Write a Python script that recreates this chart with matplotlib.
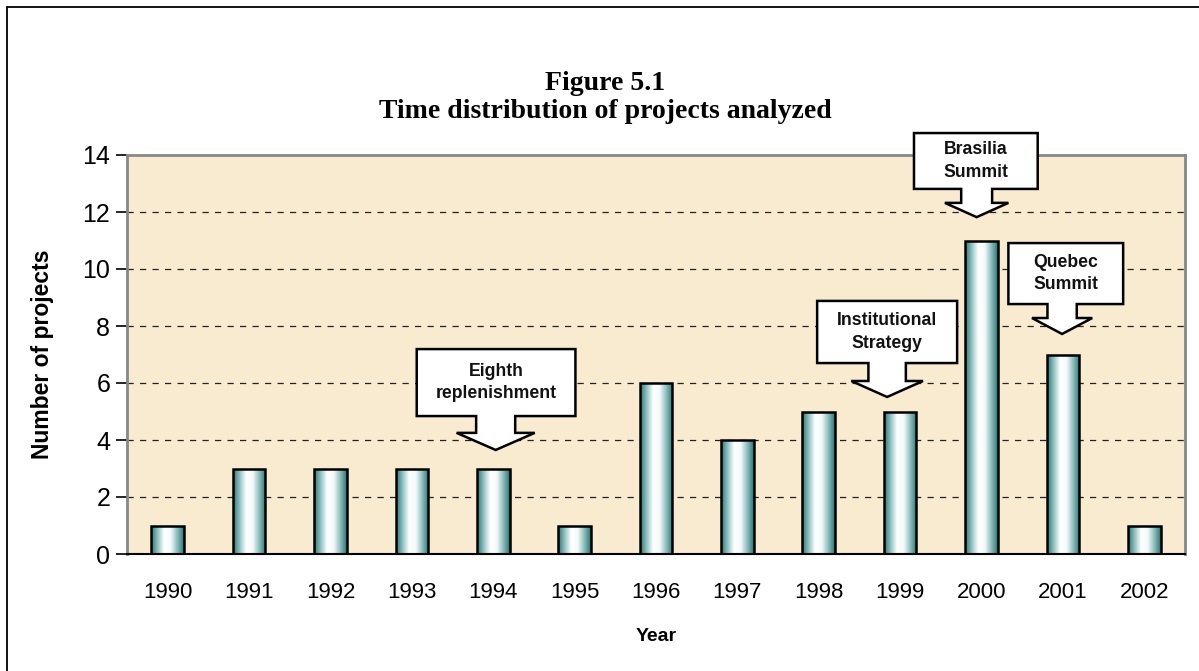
import numpy as np
import matplotlib.pyplot as plt
from matplotlib.patches import Rectangle, Polygon
from matplotlib.colors import LinearSegmentedColormap

years = ['1990', '1991', '1992', '1993', '1994', '1995', '1996',
         '1997', '1998', '1999', '2000', '2001', '2002']
projects = [1, 3, 3, 3, 3, 1, 6, 4, 5, 5, 11, 7, 1]

# callouts: text, tip x, tip y, wing y, shaft half width, wing half width, box (x0, x1, y0, y1)
callout_text = ['Eighth\nreplenishment', 'Institutional\nStrategy', 'Brasilia\nSummit', 'Quebec\nSummit']
callout_tip = [(4.03, 3.65), (8.84, 5.51), (9.94, 11.82), (10.99, 7.72)]
callout_wing_y = [4.25, 6.07, 12.32, 8.28]
callout_shaft = [0.24, 0.23, 0.19, 0.18]
callout_wing = [0.48, 0.44, 0.39, 0.37]
callout_box = [(3.06, 5.01, 4.84, 7.19), (7.98, 9.70, 6.70, 8.88),
               (9.17, 10.69, 12.81, 14.77), (10.33, 11.74, 8.77, 10.91)]

plt.rcParams['font.family'] = ['Liberation Sans', 'DejaVu Sans']

fig = plt.figure(figsize=(11.99, 6.71), dpi=100)
ax = fig.add_axes([127 / 1199, 1 - 554 / 671, 1058 / 1199, 399 / 671])
ax.set_facecolor('#F8EBD0')

# outer border of the chart
fig.patches.append(Rectangle((7 / 1199, -0.05), 1.2, 1 - 7 / 671 + 0.05,
                             transform=fig.transFigure, fill=False,
                             edgecolor='black', linewidth=1.3))

ax.set_xlim(-0.5, len(years) - 0.5)
ax.set_ylim(0, 14)

for yv in range(2, 14, 2):
    ax.axhline(yv, color='#222222', linewidth=0.9, linestyle=(0, (5, 5)), zorder=1)

cmap = LinearSegmentedColormap.from_list('teal', ['#2A7575', '#8EC0C0', '#FFFFFF', '#F4FAFA', '#8CBDBD', '#2A7575'])
grad = np.linspace(0, 1, 256).reshape(1, -1)
width = 0.4
for i, v in enumerate(projects):
    x0 = i - width / 2
    im = ax.imshow(grad, extent=(x0, x0 + width, 0, v), aspect='auto',
                   cmap=cmap, zorder=2, interpolation='bilinear')
    rect = Rectangle((x0, 0), width, v, fill=False, edgecolor='black', linewidth=1.8, zorder=3)
    ax.add_patch(rect)
    im.set_clip_path(rect)
ax.set_xlim(-0.5, len(years) - 0.5)
ax.set_ylim(0, 14)

for txt, (tx, ty), wy, sh, wg, (bx0, bx1, by0, by1) in zip(
        callout_text, callout_tip, callout_wing_y, callout_shaft, callout_wing, callout_box):
    pts = [(bx0, by1), (bx1, by1), (bx1, by0), (tx + sh, by0), (tx + sh, wy),
           (tx + wg, wy), (tx, ty), (tx - wg, wy), (tx - sh, wy), (tx - sh, by0),
           (bx0, by0)]
    ax.add_patch(Polygon(pts, closed=True, facecolor='white', edgecolor='black',
                         linewidth=1.8, zorder=5, clip_on=False))
    ax.text((bx0 + bx1) / 2, (by0 + by1) / 2, txt, ha='center', va='center',
            fontsize=12.7, fontweight='bold', color='#111111', zorder=6,
            linespacing=1.4, clip_on=False)

ax.set_xticks(range(len(years)))
ax.set_xticklabels(years, fontsize=16)
ax.set_yticks(range(0, 15, 2))
ax.tick_params(axis='y', labelsize=18, length=8, width=1.2, direction='out', pad=4)
ax.tick_params(axis='x', length=0, pad=20)

for side in ['top', 'right', 'left']:
    ax.spines[side].set_color('#888888')
    ax.spines[side].set_linewidth(2)
ax.spines['bottom'].set_color('black')
ax.spines['bottom'].set_linewidth(1.5)

ax.set_xlabel('Year', fontsize=14, fontweight='bold')
ax.xaxis.set_label_coords(0.5, -(628 - 554) / 399)
ax.set_ylabel('Number of projects', fontsize=16.5, fontweight='bold')
ax.yaxis.set_label_coords(-(127 - 54) / 1058, 0.5)

fig.text(605 / 1199, 1 - 84 / 671, 'Figure 5.1', ha='center', va='center',
         fontsize=20, fontweight='bold', family='Liberation Serif')
fig.text(605 / 1199, 1 - 112 / 671, 'Time distribution of projects analyzed', ha='center', va='center',
         fontsize=20, fontweight='bold', family='Liberation Serif')

plt.savefig('out.png', dpi=100)
